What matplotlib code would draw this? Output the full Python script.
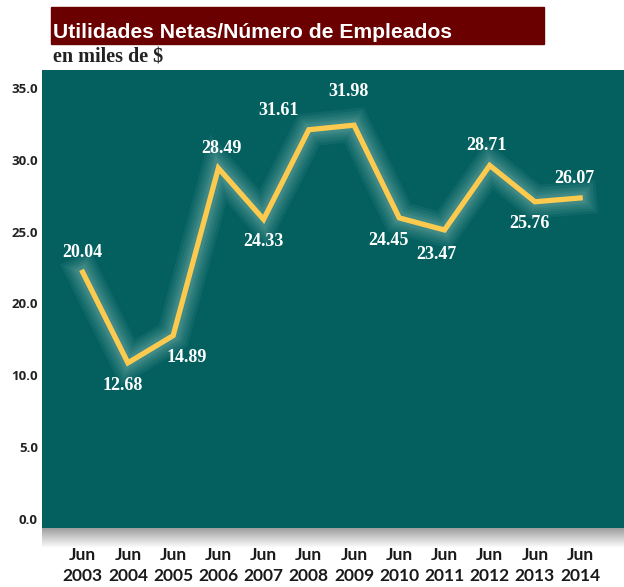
import matplotlib
matplotlib.use('Agg')
from matplotlib import pyplot as plt
import matplotlib.patheffects as pe
import numpy as np

# data
years = ['2003', '2004', '2005', '2006', '2007', '2008',
         '2009', '2010', '2011', '2012', '2013', '2014']
values = [20.04, 12.68, 14.89, 28.49, 24.33, 31.61,
          31.98, 24.45, 23.47, 28.71, 25.76, 26.07]
# y labels as printed (the original skips 15.0)
ytick_labels = ['0.0', '5.0', '10.0', '20.0', '25.0', '30.0', '35.0']

# label offsets in points (dx, dy)
offsets = [(0, 14), (-4, -16), (10, -16), (2, 14), (0, -16), (-22, 14),
           (-4, 24), (-8, -16), (-6, -18), (-2, 14), (-4, -16), (-4, 14)]

W, H = 624, 587
fig = plt.figure(figsize=(W / 100, H / 100), dpi=100)

def box(x0, y0, x1, y1):
    # pixel box (top-left origin) -> figure fraction rect
    return [x0 / W, 1 - y1 / H, (x1 - x0) / W, (y1 - y0) / H]

teal = '#03605f'

# drop shadow under the panel
sh = fig.add_axes(box(42, 528, 624, 548))
grad = np.linspace(0.62, 1.0, 50).reshape(-1, 1)
sh.imshow(np.dstack([grad, grad, grad]), aspect='auto', extent=[0, 1, 0, 1])
sh.axis('off')

ax = fig.add_axes(box(42, 70, 624, 528))
ax.set_facecolor(teal)
x = np.arange(len(years))

# soft halo around the line
glow = [pe.Stroke(linewidth=w, foreground='#b5dad6', alpha=0.07)
        for w in (24, 20, 16, 13, 10, 8)] + [pe.Normal()]
ax.plot(x, values, color='#fcca4f', lw=3.8, solid_joinstyle='miter',
        path_effects=glow, zorder=3)

for xi, v, (dx, dy) in zip(x, values, offsets):
    ax.annotate(f'{v:.2f}', (xi, v), xytext=(dx, dy), textcoords='offset points',
                ha='center', va='center', color='white', fontsize=13,
                fontweight='bold', family='Liberation Serif', zorder=4)

ax.set_xlim(-0.9, 11.97)
ax.set_ylim(-0.73, 36.46)
ax.set_yticks(np.linspace(0, 35, 7))
ax.set_yticklabels(ytick_labels, fontsize=9.5, fontweight='bold',
                   family='Open Sans', color='#222222')
ax.set_xticks(x)
ax.set_xticklabels(['Jun\n' + y for y in years], fontsize=12.5,
                   fontweight='bold', family='Lato', color='#1a1a1a',
                   linespacing=1.35)
ax.tick_params(axis='y', length=0, pad=3)
ax.tick_params(axis='x', length=0, pad=14)
for s in ax.spines.values():
    s.set_visible(False)

# title bar
fig.patches.append(plt.Rectangle((51 / W, 1 - 44 / H), (544 - 51) / W, 37 / H,
                                 transform=fig.transFigure, color='#6b0000'))
fig.text(53 / W, 1 - 32 / H, 'Utilidades Netas/Número de Empleados',
         color='white', fontsize=15.2, fontweight='bold',
         family='Liberation Sans', va='center', ha='left')
fig.text(53 / W, 1 - 57 / H, 'en miles de $', color='#222222', fontsize=14.5,
         fontweight='bold', family='Liberation Serif', va='center', ha='left')

plt.savefig('out.png', dpi=100)
